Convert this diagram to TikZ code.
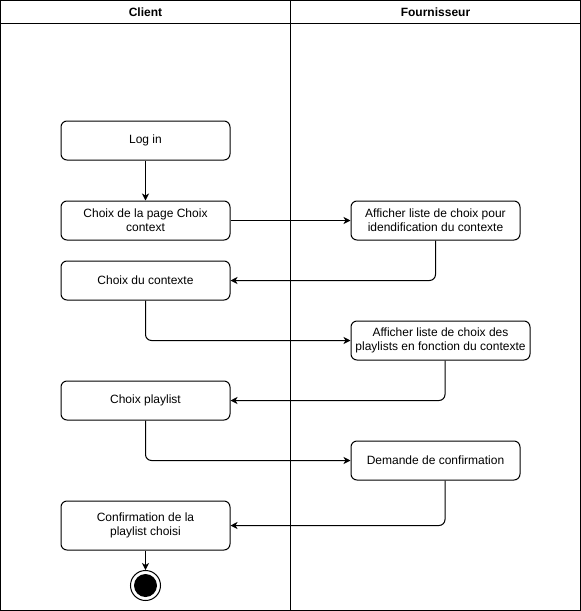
\documentclass[tikz,border=0pt]{standalone}
\usepackage{fontspec}
\setmainfont{Liberation Sans}
\usetikzlibrary{arrows.meta}
\tikzset{>={Stealth[length=7pt,width=7pt,inset=2pt]}}
\tikzset{
  action/.style = {
    draw, rounded corners=6pt, align=center, inner sep=0pt,
    minimum width=169pt, minimum height=39pt,
    font=\fontsize{12}{14}\selectfont
  },
  lanehead/.style = {font=\fontsize{12}{14}\selectfont\bfseries},
  flow/.style = {->, rounded corners=6pt}
}

\begin{document}
\begin{tikzpicture}[x=1pt,y=-1pt,line width=1pt]
  \pgfmathsetmacro{\wpic}{581}        % width of picture
  \pgfmathsetmacro{\hpic}{611}        % height of picture
  \pgfmathsetmacro{\xlane}{290.5}     % x position of lane divider
  \pgfmathsetmacro{\yhead}{23.5}      % y position of header line
  \pgfmathsetmacro{\xcli}{145.5}      % x centre of client lane
  \pgfmathsetmacro{\xfou}{435.5}      % x centre of supplier lane
  \useasboundingbox (0,0) rectangle ({\wpic},{\hpic});
  % lanes
  \draw (0.5,0.5) rectangle ({\wpic-0.5},{\hpic-0.5});
  \draw (0.5,{\yhead}) -- ({\wpic-0.5},{\yhead});
  \draw ({\xlane},0.5) -- ({\xlane},{\hpic-0.5});
  \node[lanehead] (client) at ({\xcli},12) {Client};
  \node[lanehead] (fourn)  at ({\xfou},12) {Fournisseur};
  % client actions
  \node[action] (login)   at ({\xcli},140.5) {Log in};
  \node[action] (page)    at ({\xcli},220.5) {Choix de la page Choix\\context};
  \node[action] (ctx)     at ({\xcli},280.5) {Choix du contexte};
  \node[action] (play)    at ({\xcli},400.5) {Choix playlist};
  \node[action,minimum height=49pt] (confirm) at ({\xcli},525.5) {Confirmation de la\\playlist choisi};
  % supplier actions
  \node[action] (listctx)  at ({\xfou},220.5) {Afficher liste de choix pour\\idendification du contexte};
  \node[action,minimum width=179pt] (listplay) at (440.5,340.5) {Afficher liste de choix des\\playlists en fonction du contexte};
  \node[action] (ask)      at ({\xfou},460.5) {Demande de confirmation};
  % final state
  \node[draw,circle,minimum size=30pt,inner sep=0pt] (final) at ({\xcli},585.5) {};
  \fill (final) circle (11.5);
  % flows
  \draw[flow] (login) -- (page);
  \draw[flow] (page) -- (listctx);
  \draw[flow] (listctx.south) |- (ctx.east);
  \draw[flow] (ctx.south) |- (listplay.west);
  \draw[flow] ([xshift=4.5pt]listplay.south) |- (play.east);
  \draw[flow] (play.south) |- (ask.west);
  \draw[flow] ([xshift=9.5pt]ask.south) |- (confirm.east);
  \draw[flow] (confirm) -- (final);
\end{tikzpicture}
\end{document}
